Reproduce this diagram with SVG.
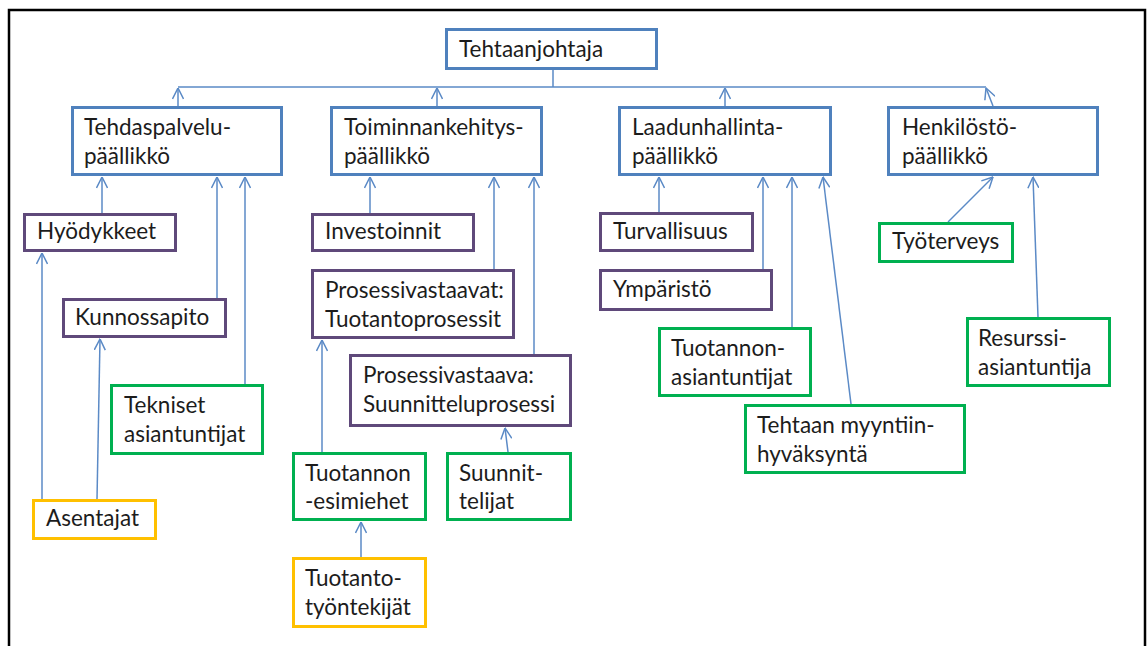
<svg xmlns="http://www.w3.org/2000/svg" width="1147" height="646" viewBox="0 0 1147 646">
  <style>
    .box { fill: #ffffff; stroke-width: 3; }
    .blue { stroke: #4f81bd; }
    .purple { stroke: #5f497a; }
    .green { stroke: #00b050; }
    .yellow { stroke: #ffc000; }
    .lbl { font-family: Lato, "Open Sans", "Liberation Sans", sans-serif; font-size: 22.5px; fill: #1c1c1c; }
    .conn { fill: none; stroke: #5b8ac6; stroke-width: 1.5; }
    .arr { marker-end: url(#open); }
  </style>
  <defs>
    <marker id="open" markerUnits="userSpaceOnUse" viewBox="0 0 12 12" refX="11.5" refY="6" markerWidth="12" markerHeight="12" orient="auto">
      <path d="M0.5,0.5 L11.5,6 L0.5,11.5" fill="none" stroke="#5b8ac6" stroke-width="1.5"/>
    </marker>
  </defs>

  <rect width="1147" height="646" fill="#ffffff"/>
  <!-- outer frame, open at the bottom -->
  <rect x="9" y="10" width="1136" height="700" fill="none" stroke="#000000" stroke-width="2.5"/>

  <g id="connectors">
    <!-- director to the common bus -->
    <path class="conn" d="M553,70 V87 M178,87 H986"/>
    <path class="conn arr" d="M178,106 V88"/>
    <path class="conn arr" d="M437,106 V88"/>
    <path class="conn arr" d="M725,106 V88"/>
    <path class="conn arr" d="M993,106 L986,88"/>
    <!-- Tehdaspalvelu -->
    <path class="conn arr" d="M102,213 V177"/>
    <path class="conn arr" d="M217,298 V177"/>
    <path class="conn arr" d="M245,384 V177"/>
    <path class="conn arr" d="M42,499 V253"/>
    <path class="conn arr" d="M97,499 L100,339"/>
    <!-- Toiminnankehitys -->
    <path class="conn arr" d="M370,213 V177"/>
    <path class="conn arr" d="M494,269 V177"/>
    <path class="conn arr" d="M534,354 V177"/>
    <path class="conn arr" d="M322,452 V340"/>
    <path class="conn arr" d="M508,452 L505,428"/>
    <path class="conn arr" d="M361,557 V522"/>
    <!-- Laadunhallinta -->
    <path class="conn arr" d="M659,212 V177"/>
    <path class="conn arr" d="M763,269 V177"/>
    <path class="conn arr" d="M792,327 V177"/>
    <path class="conn arr" d="M851,404 L823,177"/>
    <!-- Henkilöstö -->
    <path class="conn arr" d="M948,222 L993,177"/>
    <path class="conn arr" d="M1038,317 L1033,177"/>
  </g>

  <g id="tehtaanjohtaja">
    <rect class="box blue" x="446.5" y="29.5" width="210" height="39"/>
    <text class="lbl" x="459" y="57">Tehtaanjohtaja</text>
  </g>
  <g id="tehdaspalvelu">
    <rect class="box blue" x="72.5" y="107.5" width="209" height="67"/>
    <text class="lbl" x="84" y="135">Tehdaspalvelu-</text>
    <text class="lbl" x="84" y="164">päällikkö</text>
  </g>
  <g id="toiminnankehitys">
    <rect class="box blue" x="331.5" y="107.5" width="210" height="67"/>
    <text class="lbl" x="344" y="135">Toiminnankehitys-</text>
    <text class="lbl" x="344" y="164">päällikkö</text>
  </g>
  <g id="laadunhallinta">
    <rect class="box blue" x="619.5" y="107.5" width="211" height="67"/>
    <text class="lbl" x="632" y="135">Laadunhallinta-</text>
    <text class="lbl" x="632" y="164">päällikkö</text>
  </g>
  <g id="henkilosto">
    <rect class="box blue" x="888.5" y="107.5" width="209" height="67"/>
    <text class="lbl" x="902" y="135">Henkilöstö-</text>
    <text class="lbl" x="902" y="164">päällikkö</text>
  </g>

  <g id="hyodykkeet">
    <rect class="box purple" x="24.5" y="214.5" width="151" height="36"/>
    <text class="lbl" x="37" y="239">Hyödykkeet</text>
  </g>
  <g id="kunnossapito">
    <rect class="box purple" x="63.5" y="299.5" width="162" height="37"/>
    <text class="lbl" x="75" y="325">Kunnossapito</text>
  </g>
  <g id="tekniset">
    <rect class="box green" x="111.5" y="385.5" width="151" height="68"/>
    <text class="lbl" x="124" y="413">Tekniset</text>
    <text class="lbl" x="124" y="442">asiantuntijat</text>
  </g>
  <g id="asentajat">
    <rect class="box yellow" x="33.5" y="500.5" width="122" height="38"/>
    <text class="lbl" x="46" y="526">Asentajat</text>
  </g>

  <g id="investoinnit">
    <rect class="box purple" x="312.5" y="214.5" width="161" height="36"/>
    <text class="lbl" x="325" y="239">Investoinnit</text>
  </g>
  <g id="prosessivastaavat">
    <rect class="box purple" x="312.5" y="270.5" width="201" height="67"/>
    <text class="lbl" x="325" y="298">Prosessivastaavat:</text>
    <text class="lbl" x="325" y="327">Tuotantoprosessit</text>
  </g>
  <g id="prosessivastaava">
    <rect class="box purple" x="350.5" y="355.5" width="220" height="70"/>
    <text class="lbl" x="363" y="383">Prosessivastaava:</text>
    <text class="lbl" x="363" y="412">Suunnitteluprosessi</text>
  </g>
  <g id="tuotannon-esimiehet">
    <rect class="box green" x="293.5" y="453.5" width="132" height="66"/>
    <text class="lbl" x="305" y="481">Tuotannon</text>
    <text class="lbl" x="305" y="509">-esimiehet</text>
  </g>
  <g id="suunnittelijat">
    <rect class="box green" x="447.5" y="453.5" width="123" height="66"/>
    <text class="lbl" x="459" y="481">Suunnit-</text>
    <text class="lbl" x="459" y="509">telijat</text>
  </g>
  <g id="tuotantotyontekijat">
    <rect class="box yellow" x="293.5" y="558.5" width="132" height="68"/>
    <text class="lbl" x="305" y="586">Tuotanto-</text>
    <text class="lbl" x="305" y="615">työntekijät</text>
  </g>

  <g id="turvallisuus">
    <rect class="box purple" x="600.5" y="213.5" width="152" height="37"/>
    <text class="lbl" x="613" y="239">Turvallisuus</text>
  </g>
  <g id="ymparisto">
    <rect class="box purple" x="600.5" y="270.5" width="171" height="39"/>
    <text class="lbl" x="613" y="297">Ympäristö</text>
  </g>
  <g id="tuotannon-asiantuntijat">
    <rect class="box green" x="659.5" y="328.5" width="151" height="67"/>
    <text class="lbl" x="671" y="356">Tuotannon-</text>
    <text class="lbl" x="671" y="385">asiantuntijat</text>
  </g>
  <g id="myyntiinhyvaksynta">
    <rect class="box green" x="745.5" y="405.5" width="219" height="67"/>
    <text class="lbl" x="757" y="433">Tehtaan myyntiin-</text>
    <text class="lbl" x="757" y="462">hyväksyntä</text>
  </g>

  <g id="tyoterveys">
    <rect class="box green" x="879.5" y="223.5" width="133" height="38"/>
    <text class="lbl" x="892" y="249">Työterveys</text>
  </g>
  <g id="resurssi">
    <rect class="box green" x="967.5" y="318.5" width="142" height="67"/>
    <text class="lbl" x="978" y="346">Resurssi-</text>
    <text class="lbl" x="978" y="375">asiantuntija</text>
  </g>
</svg>
